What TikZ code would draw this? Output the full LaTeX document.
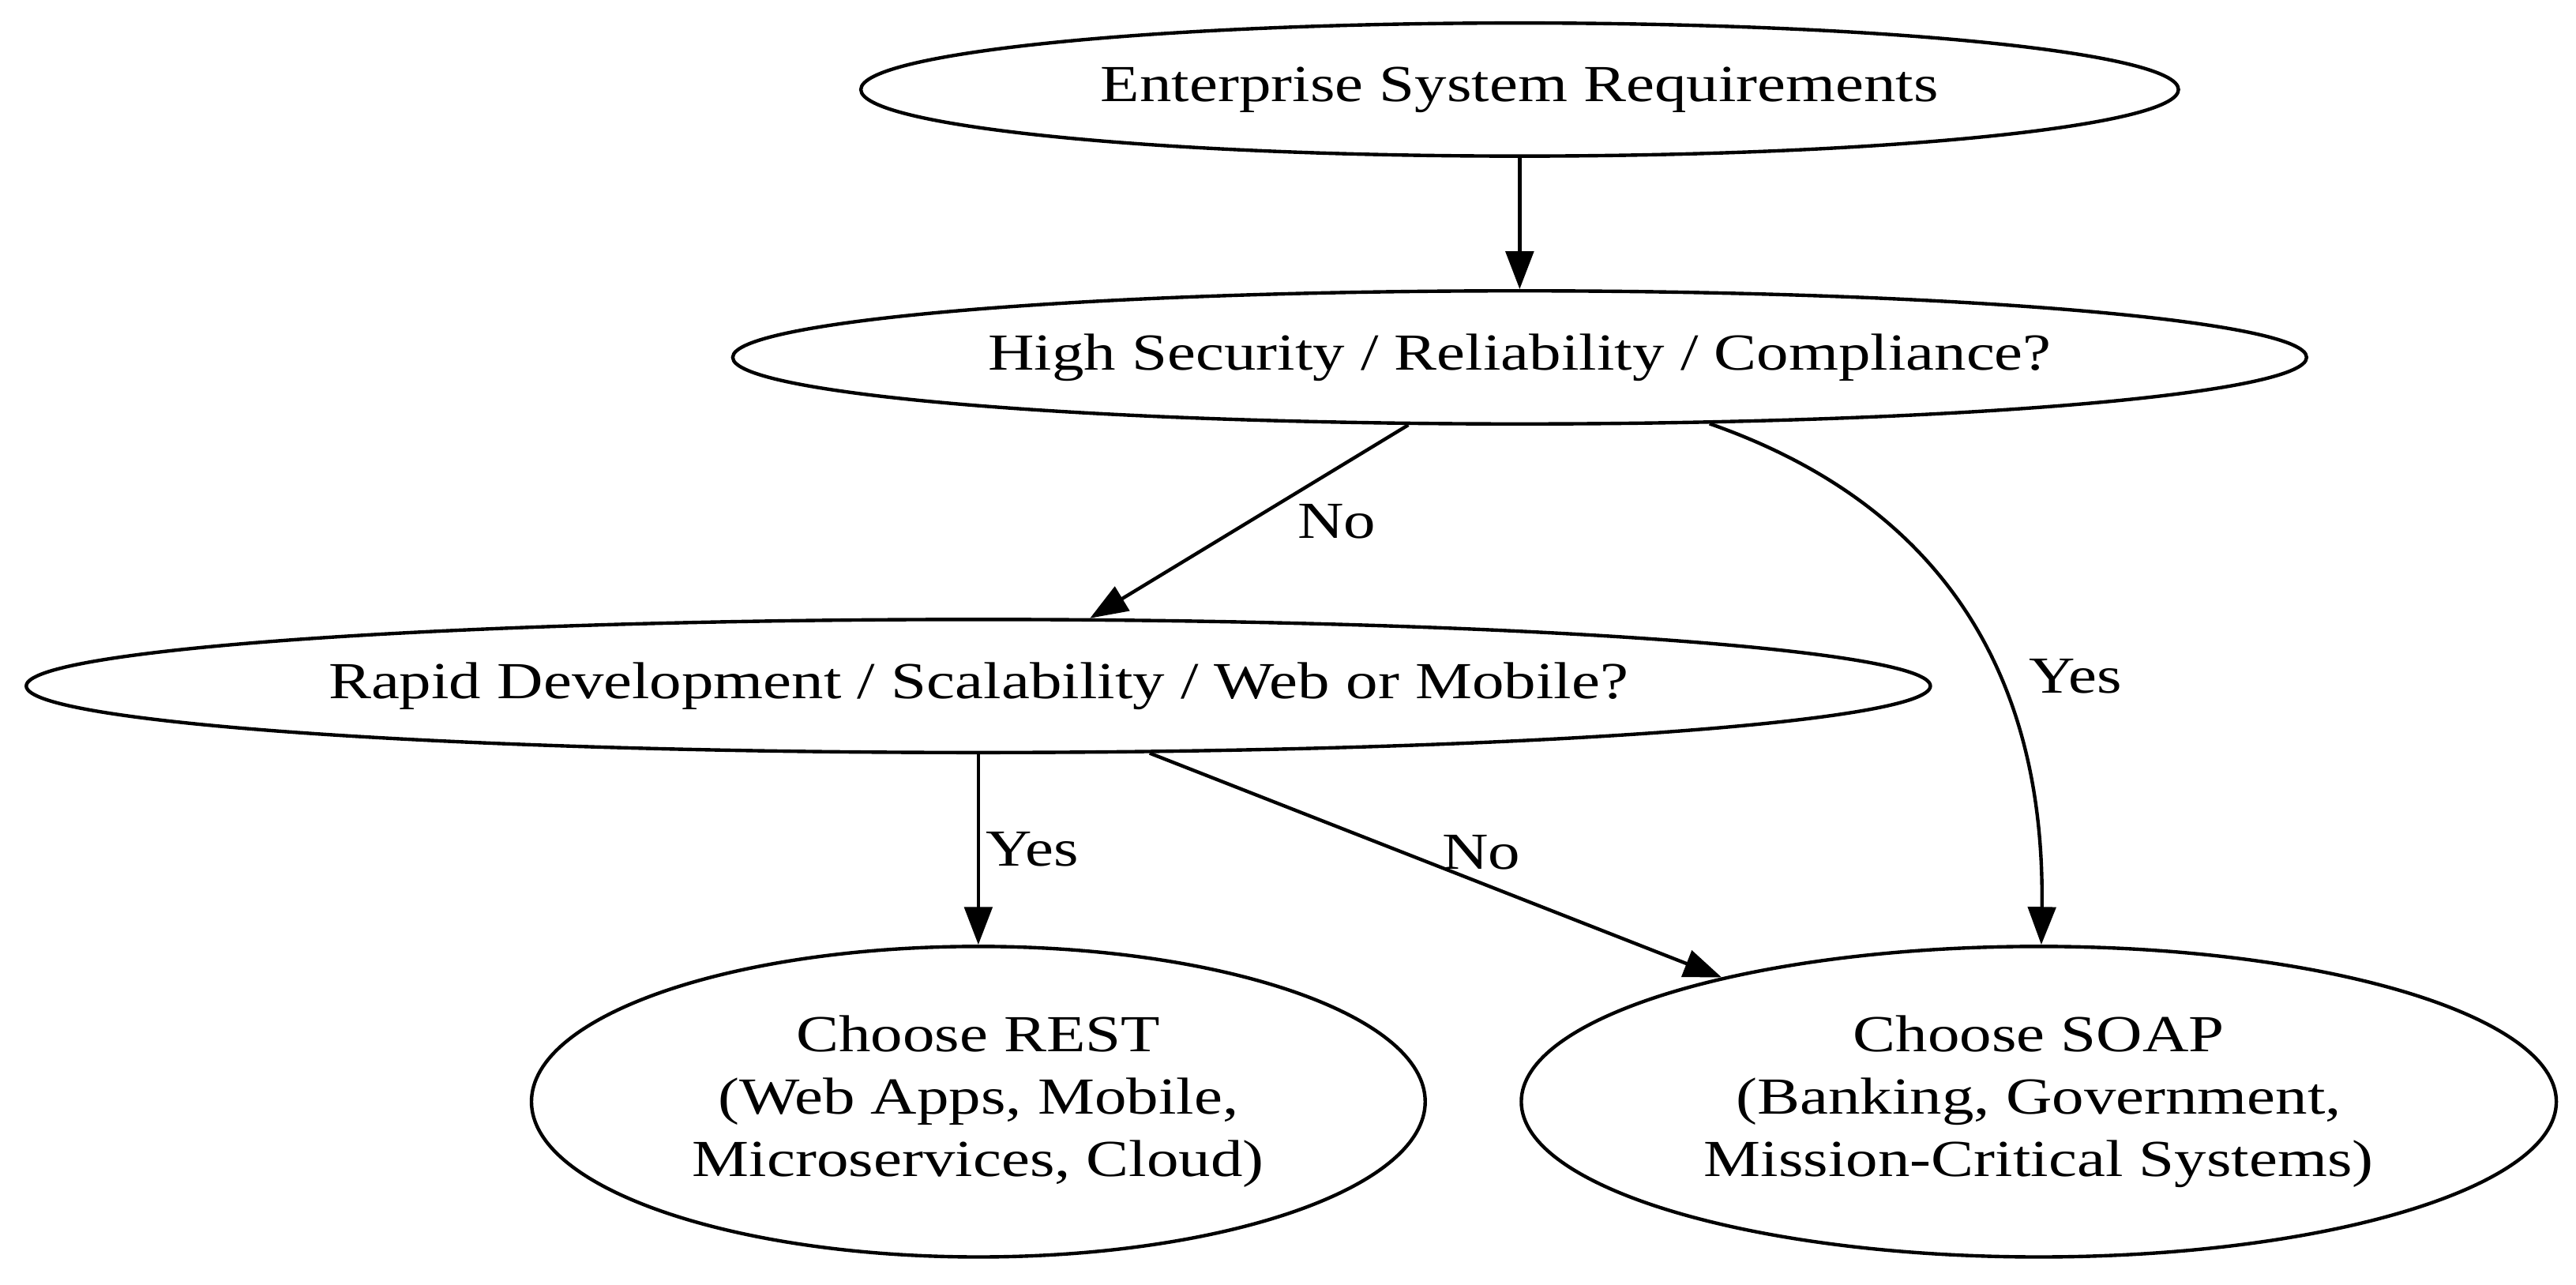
\documentclass[tikz,border=0pt]{standalone}
\usepackage{fontspec}
\setmainfont[FakeStretch=1.23]{Liberation Serif}
\usepackage{tikz}
\usetikzlibrary{positioning,arrows.meta}
\usetikzlibrary{shapes.geometric}
\tikzstyle{choice} = [draw,ellipse,inner sep=0pt,line width=0.6pt,align=center,font=\fontsize{9}{10.8}\selectfont]
\tikzstyle{link} = [line width=0.6pt,-{Triangle[length=2.3mm,width=1.7mm]}]
\tikzstyle{lbl} = [inner sep=1pt,font=\fontsize{9}{10.8}\selectfont]

\begin{document}
\begin{tikzpicture}
\useasboundingbox (0,0) rectangle (15.68,-7.82);

\node[choice,minimum width=8.02cm,minimum height=0.81cm] (req) at (9.25,-0.545) {Enterprise System Requirements};
\node[choice,minimum width=9.58cm,minimum height=0.81cm] (sec) at (9.25,-2.175) {High Security / Reliability / Compliance?};
\node[choice,minimum width=11.59cm,minimum height=0.81cm] (dev) at (5.955,-4.175) {Rapid Development / Scalability / Web or Mobile?};
\node[choice,minimum width=5.44cm,minimum height=1.89cm] (rest) at (5.955,-6.705) {Choose REST\\(Web Apps, Mobile,\\Microservices, Cloud)};
\node[choice,minimum width=6.30cm,minimum height=1.89cm] (soap) at (12.41,-6.705) {Choose SOAP\\(Banking, Government,\\Mission-Critical Systems)};

\draw[link] (req) -- (sec);
\draw[link] (sec) -- node[lbl,midway,right=2.5mm] {No} (dev);
\draw[link] (sec) .. controls (11.9,-3.1) and (12.45,-4.2) .. node[lbl,pos=0.6,right=1.5mm] {Yes} (soap);
\draw[link] (dev) -- node[lbl,midway,right=0pt] {Yes} (rest);
\draw[link] (dev) -- node[lbl,pos=0.58,above=1pt] {No} (soap);

\end{tikzpicture}
\end{document}
